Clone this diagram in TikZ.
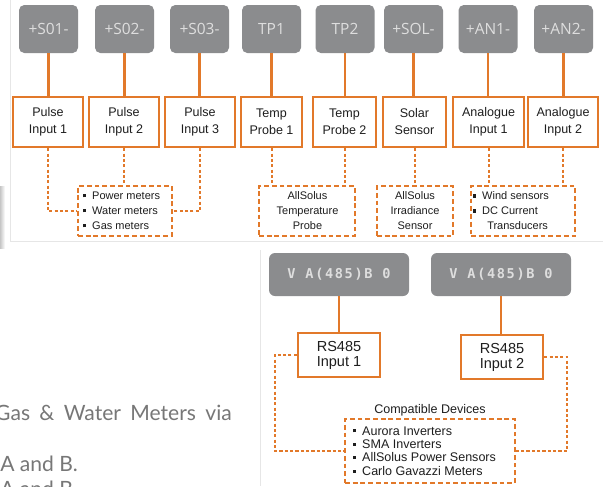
\documentclass[tikz,border=0pt]{standalone}
\usepackage{fontspec}
\setmainfont{Liberation Sans}
\newfontfamily\termfont{Open Sans}
\newfontfamily\busfont[LetterSpace=12]{DejaVu Sans Mono}
\newfontfamily\notefont{Lato}

\definecolor{amber}{HTML}{E2792A}
\definecolor{termgray}{HTML}{8B8C8E}
\definecolor{termtext}{HTML}{DEDEDE}
\definecolor{ink}{HTML}{1E1E1E}
\definecolor{notegray}{HTML}{777777}
\definecolor{framegray}{HTML}{E6E6E6}

% small square bullet
\newcommand{\sqbul}{\raisebox{0.22em}{\rule{2.3pt}{2.3pt}}\hspace{4.4pt}}

\tikzset{
  term/.style={fill=termgray, rounded corners=4pt, text=termtext,
    font=\termfont\fontsize{11.6pt}{13pt}\selectfont,
    minimum width=44.25pt, minimum height=36pt, inner sep=0pt},
  bus/.style={fill=termgray, rounded corners=4.5pt, text=termtext,
    font=\busfont\bfseries\fontsize{10.2pt}{11pt}\selectfont,
    minimum width=105pt, minimum height=32.25pt, inner sep=0pt},
  inbox/.style={draw=amber, line width=1.8pt, fill=white, align=center, text=ink,
    font=\fontsize{9.4pt}{12.75pt}\selectfont, inner sep=0pt, minimum height=37.5pt},
  rsbox/.style={draw=amber, line width=1.8pt, fill=white, align=center, text=ink,
    font=\fontsize{10.9pt}{11.25pt}\selectfont, inner sep=0pt,
    minimum width=61.5pt, minimum height=33pt},
  listbox/.style={draw=amber, line width=1.5pt, dash pattern=on 3.6pt off 2.2pt,
    inner sep=0pt, minimum height=37.5pt},
  listtext/.style={text=ink, inner sep=0pt,
    font=\fontsize{8.25pt}{11.25pt}\selectfont},
  wire/.style={amber, line width=1.6pt},
  dwire/.style={amber, line width=1.5pt, dash pattern=on 2.3pt off 1.7pt},
  note/.style={text=notegray, inner sep=0pt,
    font=\notefont\fontsize{15.8pt}{19pt}\selectfont},
  frame/.style={framegray, line width=0.6pt}
}

\begin{document}
\begin{tikzpicture}[x=0.75pt,y=-0.75pt]
\useasboundingbox (0,0) rectangle (603,486);
\clip (0,0) rectangle (603,486);
\fill[white] (0,0) rectangle (603,486);

% panel outlines
\draw[frame] (10,0) -- (10,241) -- (603,241);
\draw[frame] (260,250) -- (260,486);
\fill[left color=gray!45, right color=white] (0,186) rectangle (5,248);

% ---------- terminal row ----------
\node[term] (s01) at (48.5,29)  {+S01-};
\node[term] (s02) at (124.5,29) {+S02-};
\node[term] (s03) at (199.5,29) {+S03-};
\node[term] (tp1) at (271.5,29) {TP1};
\node[term] (tp2) at (345,29)   {TP2};
\node[term] (sol) at (413.5,29) {+SOL-};
\node[term] (an1) at (488,29)   {+AN1-};
\node[term] (an2) at (563.5,29) {+AN2-};

% ---------- input boxes ----------
\node[inbox, minimum width=52.5pt]  (pi1) at (48,122)    {Pulse\\Input 1};
\node[inbox, minimum width=52.5pt]  (pi2) at (124,122)   {Pulse\\Input 2};
\node[inbox, minimum width=52.5pt]  (pi3) at (200,122)   {Pulse\\Input 3};
\node[inbox, minimum width=45.75pt] (tb1) at (271.5,122) {Temp\\Probe 1};
\node[inbox, minimum width=47.25pt] (tb2) at (344.5,122) {Temp\\Probe 2};
\node[inbox, minimum width=47.25pt] (ssb) at (414.5,122) {Solar\\Sensor};
\node[inbox, minimum width=53pt]    (ai1) at (488.5,122) {Analogue\\Input 1};
\node[inbox, minimum width=52.5pt]  (ai2) at (563,122)   {Analogue\\Input 2};

\foreach \t/\b in {s01/pi1,s02/pi2,s03/pi3,tp1/tb1,tp2/tb2,sol/ssb,an1/ai1,an2/ai2}
  \draw[wire] (\t.south) -- (\t.south |- \b.north);

% ---------- device boxes ----------
\node[listbox, minimum width=70.5pt] (meters) at (125,211) {};
\node[listbox, minimum width=72pt]   (tprobe) at (307,211) {};
\node[listbox, minimum width=57pt]   (irr)    at (415,211) {};
\node[listbox, minimum width=78pt]   (ana)    at (523,211) {};

\node[listtext, anchor=west, align=left] (metertxt) at (83,211)
  {\sqbul Power meters\\\sqbul Water meters\\\sqbul Gas meters};
\node[listtext, align=center] (tprobetxt) at (307.5,211)
  {AllSolus\\Temperature\\Probe};
\node[listtext, align=center] (irrtxt) at (415,211)
  {AllSolus\\Irradiance\\Sensor};
\node[listtext, anchor=west, align=left] (anatxt) at (473,211)
  {\sqbul Wind sensors\\\sqbul DC Current\\\hspace{10.5pt}Transducers};

\draw[dwire] (pi1.south) |- (meters.west);
\draw[dwire] (pi2.south) -- (pi2.south |- meters.north);
\draw[dwire] (pi3.south) |- (meters.east);
\draw[dwire] (tb1.south) -- (tb1.south |- tprobe.north);
\draw[dwire] (tb2.south) -- (tb2.south |- tprobe.north);
\draw[dwire] (ssb.south) -- (ssb.south |- irr.north);
\draw[dwire] (ai1.south) -- (ai1.south |- ana.north);
\draw[dwire] (ai2.south) -- (ai2.south |- ana.north);

% ---------- RS485 section ----------
\node[bus] (bus1) at (339,274.5) {V A(485)B 0};
\node[bus] (bus2) at (501,274.5) {V A(485)B 0};

\node[rsbox] (rs1) at (339,355) {RS485\\Input 1};
\node[rsbox] (rs2) at (502,357) {RS485\\Input 2};

\draw[wire] (bus1.south) -- (bus1.south |- rs1.north);
\draw[wire] (bus2.south) -- (bus2.south |- rs2.north);

\node[listbox, minimum width=127.5pt, minimum height=48pt] (compat) at (430,451) {};
\node[listtext, font=\fontsize{9.4pt}{11pt}\selectfont] (compatlbl) at (430,410)
  {Compatible Devices};
\node[listtext, anchor=west, align=left, font=\fontsize{9.4pt}{10.1pt}\selectfont]
  (compattxt) at (353,451)
  {\sqbul Aurora Inverters\\\sqbul SMA Inverters\\\sqbul AllSolus Power Sensors\\\sqbul Carlo Gavazzi Meters};

\draw[dwire] (rs1.west) -- ++(-22,0) coordinate (rs1bend) |- (compat.west);
\draw[dwire] (rs2.east) -- ++(23,0) coordinate (rs2bend) |- (compat.east);

% ---------- page text ----------
\node[note, anchor=base east] (noteA) at (232,420)
  {Gas\hspace{7pt}\&\hspace{7pt}Water\hspace{7pt}Meters\hspace{7pt}via};
\node[note, anchor=base west] (noteB) at (0,471) {A and B.};
\node[note, anchor=base west] (noteC) at (0,496.5) {A and B};
\end{tikzpicture}
\end{document}
